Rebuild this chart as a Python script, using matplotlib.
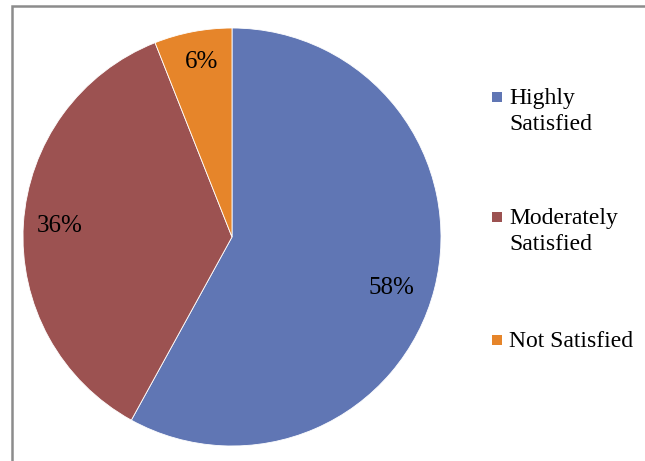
import numpy as np
import matplotlib
matplotlib.use("Agg")
import matplotlib.pyplot as plt
from matplotlib.patches import Rectangle

plt.rcParams['font.family'] = ['Liberation Serif', 'DejaVu Serif']

labels = ["Highly\nSatisfied", "Moderately\nSatisfied", "Not Satisfied"]
shares = [58, 36, 6]
colors = ["#6076b4", "#9c5251", "#e6852a"]

W, H = 645, 461
fig = plt.figure(figsize=(W / 100, H / 100), dpi=100)

# pie centred at (232, 237) px, radius 209 px
cx, cy, r = 232, 237, 209
ax = fig.add_axes([(cx - r) / W, (H - cy - r) / H, 2 * r / W, 2 * r / H])
wedges, texts = ax.pie(
    shares, colors=colors, startangle=90, counterclock=False,
    wedgeprops=dict(linewidth=0.6, edgecolor="white"))
ax.set_xlim(-1, 1)
ax.set_ylim(-1, 1)
ax.set_aspect("equal")

# percentage labels, nudged a little from the wedge middles
label_r = [0.80, 0.825, 0.85]
label_shift = [-3.4, 0.0, -0.8]
for w, val, lr, sh in zip(wedges, shares, label_r, label_shift):
    a = np.deg2rad((w.theta1 + w.theta2) / 2 + sh)
    ax.text(lr * np.cos(a), lr * np.sin(a), f"{val}%", fontsize=18,
            ha="center", va="center")

# legend drawn by hand: marker beside the first line of each label
legend_y = [97, 217, 340]
for lab, col, y in zip(labels, colors, legend_y):
    fig.patches.append(Rectangle((492 / W, 1 - (y + 5) / H), 10 / W, 10 / H,
                                 transform=fig.transFigure, facecolor=col,
                                 edgecolor="none"))
    fig.text(509 / W, 1 - (y - 9) / H, lab, fontsize=17, va="top", ha="left",
             linespacing=1.3)

# chart border (runs off the right and bottom edges)
fig.patches.append(Rectangle((12 / W, -0.1), 1.2, 1 - 6 / H + 0.1,
                             transform=fig.transFigure, facecolor="none",
                             edgecolor="#8c8c8c", linewidth=1.8))

fig.savefig("out.png", dpi=100)
